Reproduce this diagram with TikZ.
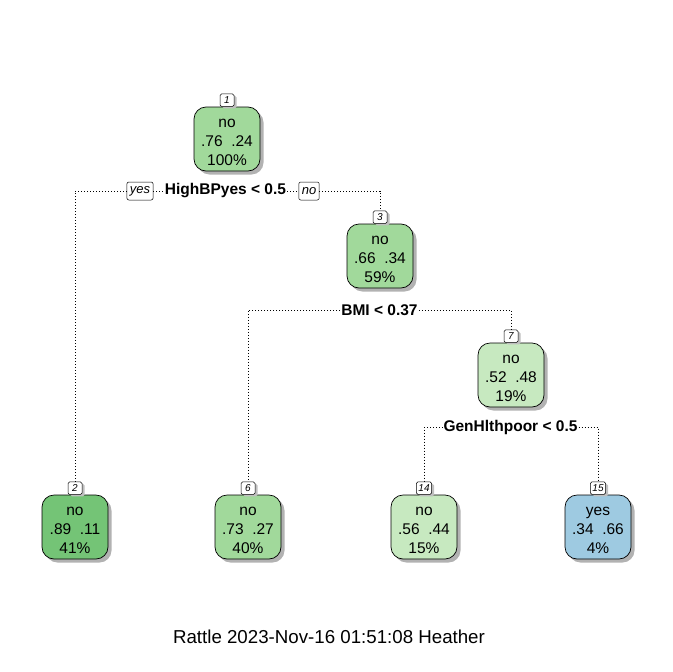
\documentclass[tikz,border=0pt]{standalone}
\usepackage{fontspec}
\setmainfont{Liberation Sans}
\usetikzlibrary{shadows}
\definecolor{gA}{RGB}{161,217,155}
\definecolor{gB}{RGB}{116,196,118}
\definecolor{gC}{RGB}{199,233,192}
\definecolor{bA}{RGB}{158,202,225}
\tikzset{
  treebox/.style={draw, line width=0.7pt, rounded corners=12pt, minimum width=66pt, minimum height=64pt,
    inner sep=0pt,
    drop shadow={shadow xshift=3.5pt, shadow yshift=-3.5pt, fill=black!30, opacity=1}},
  boxtext/.style={align=center, inner sep=0pt, font=\fontsize{15.5}{19}\selectfont},
  tagbox/.style={draw, fill=white, line width=0.5pt, rounded corners=1.5pt, minimum height=12.5pt, minimum width=14pt,
    inner xsep=2pt, inner ysep=0pt, font=\fontsize{10}{10}\itshape, anchor=south,
    drop shadow={shadow xshift=2.5pt, shadow yshift=-2pt, fill=black!25, opacity=1}},
  yntag/.style={draw, fill=white, line width=0.5pt, rounded corners=2pt, minimum height=18pt,
    inner xsep=3pt, inner ysep=0pt, font=\fontsize{13}{13}\itshape},
  splitlab/.style={fill=white, inner xsep=1pt, inner ysep=1pt, font=\fontsize{15.5}{16}\bfseries},
  conn/.style={line width=0.8pt, dash pattern=on 0.8pt off 2.2pt},
}
\begin{document}
\begin{tikzpicture}[x=1pt,y=-1pt]
\useasboundingbox (0,0) rectangle (672,672);
% nodes
\node[treebox, fill=gA] (n1) at (227,139) {};
\node[boxtext] (n1t) at ([yshift=-3pt]n1.center) {no\\.76\ \ .24\\100\%};
\node[tagbox] (t1) at (n1.north) {1};
\node[treebox, fill=gA] (n3) at (380,256) {};
\node[boxtext] (n3t) at ([yshift=-3pt]n3.center) {no\\.66\ \ .34\\59\%};
\node[tagbox] (t3) at (n3.north) {3};
\node[treebox, fill=gC] (n7) at (511,375) {};
\node[boxtext] (n7t) at ([yshift=-3pt]n7.center) {no\\.52\ \ .48\\19\%};
\node[tagbox] (t7) at (n7.north) {7};
\node[treebox, fill=gB] (n2) at (75,527) {};
\node[boxtext] (n2t) at ([yshift=-3pt]n2.center) {no\\.89\ \ .11\\41\%};
\node[tagbox] (t2) at (n2.north) {2};
\node[treebox, fill=gA] (n6) at (248,527) {};
\node[boxtext] (n6t) at ([yshift=-3pt]n6.center) {no\\.73\ \ .27\\40\%};
\node[tagbox] (t6) at (n6.north) {6};
\node[treebox, fill=gC] (n14) at (424,527) {};
\node[boxtext] (n14t) at ([yshift=-3pt]n14.center) {no\\.56\ \ .44\\15\%};
\node[tagbox] (t14) at (n14.north) {14};
\node[treebox, fill=bA] (n15) at (598,527) {};
\node[boxtext] (n15t) at ([yshift=-3pt]n15.center) {yes\\.34\ \ .66\\4\%};
\node[tagbox] (t15) at (n15.north) {15};
% split labels
\node[splitlab] (s1) at (225.5,191) {HighBPyes < 0.5};
\node[yntag] (yes) at (140,191) {yes};
\node[yntag] (no) at (309,191) {no};
\node[splitlab] (s3) at (379.5,310) {BMI < 0.37};
\node[splitlab] (s7) at (510.5,427) {GenHlthpoor < 0.5};
% connectors
\draw[conn] (yes.west) -| (t2.north);
\draw[conn] (yes.east) -- (s1.west);
\draw[conn] (s1.east) -- (no.west);
\draw[conn] (no.east) -| (t3.north);
\draw[conn] (s3.west) -| (t6.north);
\draw[conn] (s3.east) -| (t7.north);
\draw[conn] (s7.west) -| (t14.north);
\draw[conn] (s7.east) -| (t15.north);
% footer
\node[font=\fontsize{18.7}{20}\selectfont] (foot) at (329,637) {Rattle 2023-Nov-16 01:51:08 Heather};
\end{tikzpicture}
\end{document}
